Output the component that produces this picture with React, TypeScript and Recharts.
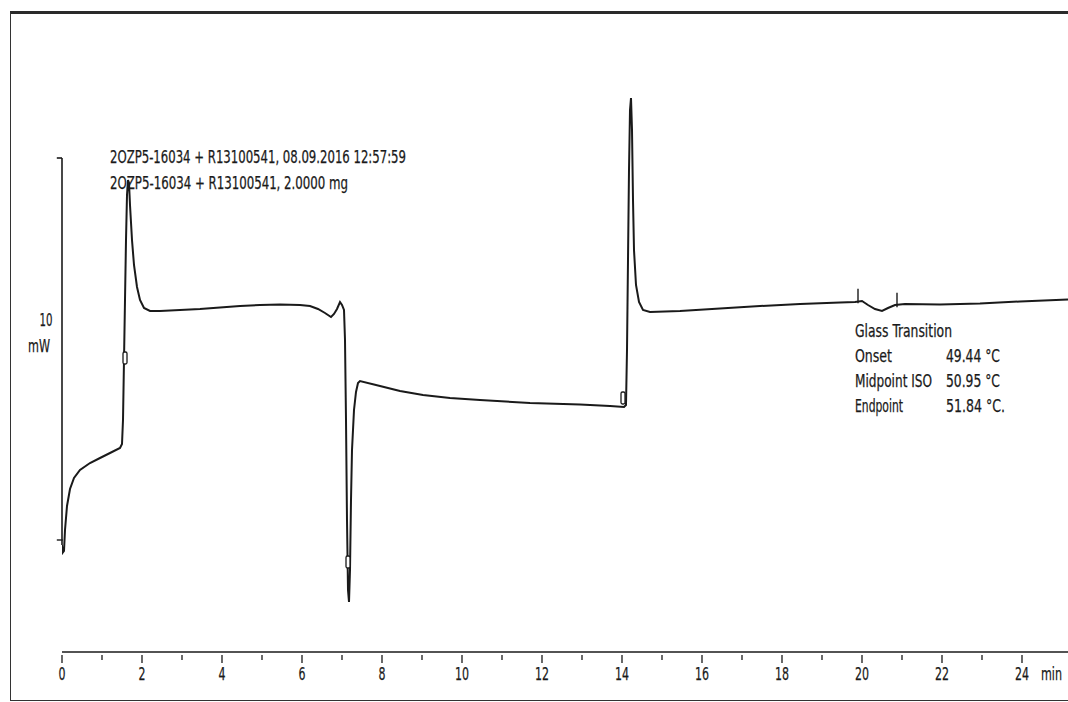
import React from 'react';
import { LineChart, Line, XAxis, YAxis, ReferenceLine, ReferenceDot } from 'recharts';

// time in minutes
const timeMin = [
  0, 0.0125, 0.05, 0.075, 0.125, 0.2, 0.3, 0.45, 0.7, 0.95, 1.2, 1.45, 1.5, 1.525, 1.55, 1.575, 1.6, 1.625, 1.65, 1.675,
  1.7, 1.75, 1.8, 1.875, 1.95, 2.05, 2.2, 2.45, 2.95, 3.45, 3.95, 4.45, 4.95, 5.45, 5.95, 6.2, 6.4, 6.575, 6.725, 6.8,
  6.875, 6.95, 7.0, 7.05, 7.075, 7.1, 7.125, 7.15, 7.175, 7.2, 7.225, 7.25, 7.3, 7.35, 7.4, 7.45, 7.95, 8.45, 9.025, 9.7,
  10.45, 11.7, 12.95, 13.7, 14.05, 14.1, 14.125, 14.15, 14.175, 14.2, 14.225, 14.25, 14.275, 14.3, 14.35, 14.425, 14.525, 14.7, 15.45, 16.45,
  17.45, 18.45, 19.45, 19.825, 20.0, 20.15, 20.325, 20.5, 20.65, 20.825, 21.075, 21.95, 22.95, 23.95, 25.15,
];
// heat flow in mW (arbitrary offset)
const heatFlowMw = [
  2.675, 2.475, 2.525, 3.05, 3.65, 4.075, 4.35, 4.55, 4.725, 4.85, 4.975, 5.1, 5.2, 5.8, 7.3, 8.8, 10.3, 11.425, 11.8, 11.725,
  11.175, 10.3, 9.675, 9.125, 8.8, 8.6, 8.525, 8.525, 8.55, 8.575, 8.6125, 8.65, 8.675, 8.6875, 8.675, 8.65, 8.575, 8.475, 8.375, 8.45,
  8.575, 8.75, 8.675, 8.55, 7.8, 5.8, 3.3, 1.55, 1.25, 2.05, 3.8, 5.05, 6.05, 6.5, 6.725, 6.775, 6.65, 6.525, 6.425, 6.35,
  6.3, 6.225, 6.1875, 6.15, 6.125, 6.175, 7.55, 9.8, 12.05, 13.55, 13.85, 13.05, 11.3, 10.05, 9.175, 8.75, 8.55, 8.5, 8.525, 8.5875,
  8.65, 8.7, 8.7375, 8.75, 8.775, 8.675, 8.575, 8.525, 8.6, 8.675, 8.7, 8.6875, 8.7125, 8.7625, 8.8125,
];

const xTicks = [0, 1, 2, 3, 4, 5, 6, 7, 8, 9, 10, 11, 12, 13, 14, 15, 16, 17, 18, 19, 20, 21, 22, 23, 24];
const xUnit = 'min';

const headerLines = [
  '2OZP5-16034 + R13100541, 08.09.2016 12:57:59',
  '2OZP5-16034 + R13100541, 2.0000 mg',
];
const scaleLabel = ['10', 'mW'];
const glassTitle = 'Glass Transition';
const glassNames = ['Onset', 'Midpoint ISO', 'Endpoint'];
const glassValues = ['49.44 °C', '50.95 °C', '51.84 °C.'];

// segment markers on the curve (time, mW)
const segMarkerT = [1.575, 7.15, 14.025];
const segMarkerV = [7.35, 2.25, 6.35];

const data = timeMin.map((t, i) => ({ t, hf: heatFlowMw[i] }));

const FONT = "'Liberation Sans Narrow', 'DejaVu Sans Condensed', 'Liberation Sans', sans-serif";
const INK = '#1a1a1a';

function makeText(text: string, anchor: 'start' | 'middle' | 'end', len?: number, size = 17) {
  return (props: any) => {
    const vb = props.viewBox || {};
    const x = (vb.x ?? 0) + (vb.width ?? 0) / 2;
    const y = (vb.y ?? 0) + (vb.height ?? 0) / 2;
    return (
      <text
        x={x}
        y={y}
        dy="0.36em"
        textAnchor={anchor}
        fontFamily={FONT}
        fontSize={size}
        fill={INK}
        stroke={INK}
        strokeWidth={0.25}
        textLength={len}
        lengthAdjust={len ? 'spacingAndGlyphs' : undefined}
      >
        {text}
      </text>
    );
  };
}

const XTick = (props: any) => {
  const { x, y, payload } = props;
  const v = payload.value as number;
  const major = v % 2 === 0;
  const label = String(v);
  return (
    <g>
      <line x1={x} x2={x} y1={y + 3} y2={y + (major ? 11 : 8)} stroke={INK} strokeWidth={1.3} />
      {major && (
        <text
          x={x}
          y={y + 22}
          dy="0.36em"
          textAnchor="middle"
          fontFamily={FONT}
          fontSize={18}
          fill={INK}
          stroke={INK}
          strokeWidth={0.25}
          textLength={label.length * 7}
          lengthAdjust="spacingAndGlyphs"
        >
          {label}
        </text>
      )}
      {v === 24 && (
        <text
          x={x + 19}
          y={y + 22}
          dy="0.36em"
          textAnchor="start"
          fontFamily={FONT}
          fontSize={18}
          fill={INK}
          stroke={INK}
          strokeWidth={0.25}
          textLength={21}
          lengthAdjust="spacingAndGlyphs"
        >
          {xUnit}
        </text>
      )}
    </g>
  );
};

const noDot = { r: 0.01, fill: 'none', stroke: 'none' } as any;

const SegMarker = (p: any) => (
  <rect x={p.cx - 2} y={p.cy - 6} width={4} height={12} rx={1.5} fill="#fff" stroke={INK} strokeWidth={1.3} />
);

export default function App() {
  return (
    <div style={{ position: 'fixed', left: 0, top: 0, width: 1068, height: 702, background: '#fff' }}>
      <div
        style={{
          position: 'absolute',
          left: 10,
          top: 11,
          width: 1058,
          height: 690,
          borderLeft: '1.5px solid #333',
          borderTop: '3px solid #2a2a2a',
          borderBottom: '1.5px solid #333',
          boxSizing: 'border-box',
        }}
      />
      <div style={{ position: 'absolute', left: 0, top: 0 }}>
        <LineChart width={1068} height={702} data={data} margin={{ top: 12, right: 0, bottom: 10, left: 62 }}>
          <XAxis
            dataKey="t"
            type="number"
            domain={[0, 25.15]}
            ticks={xTicks}
            interval={0}
            allowDataOverflow
            tick={<XTick />}
            tickLine={false}
            tickSize={0}
            tickMargin={0}
            height={40}
            axisLine={{ stroke: INK, strokeWidth: 1.6 }}
          />
          <YAxis type="number" domain={[0, 16]} hide width={0} allowDataOverflow />

          {/* 10 mW scale bar */}
          <ReferenceLine segment={[{ x: 0, y: 12.35 }, { x: 0, y: 2.675 }]} stroke={INK} strokeWidth={1.6} ifOverflow="visible" />
          <ReferenceLine segment={[{ x: -0.13, y: 12.35 }, { x: 0, y: 12.35 }]} stroke={INK} strokeWidth={1.6} ifOverflow="visible" />
          <ReferenceLine segment={[{ x: -0.13, y: 2.8 }, { x: 0.02, y: 2.8 }]} stroke={INK} strokeWidth={1.4} ifOverflow="visible" />

          <Line type="linear" dataKey="hf" stroke={INK} strokeWidth={2} dot={false} activeDot={false} isAnimationActive={false} />

          {/* glass transition evaluation marks */}
          <ReferenceLine segment={[{ x: 19.9, y: 8.72 }, { x: 19.9, y: 9.08 }]} stroke={INK} strokeWidth={1.4} ifOverflow="visible" />
          <ReferenceLine segment={[{ x: 20.875, y: 8.62 }, { x: 20.875, y: 8.98 }]} stroke={INK} strokeWidth={1.4} ifOverflow="visible" />

          {segMarkerT.map((t, i) => (
            <ReferenceDot key={'m' + i} x={t} y={segMarkerV[i]} r={3} shape={<SegMarker />} ifOverflow="visible" />
          ))}

          {/* header text */}
          <ReferenceDot x={1.2} y={12.375} {...noDot} ifOverflow="visible" label={{ content: makeText(headerLines[0], 'start', 296) }} />
          <ReferenceDot x={1.2} y={11.725} {...noDot} ifOverflow="visible" label={{ content: makeText(headerLines[1], 'start', 238) }} />

          {/* scale label */}
          <ReferenceDot x={-0.4} y={8.3} {...noDot} ifOverflow="visible" label={{ content: makeText(scaleLabel[0], 'middle', 13, 18) }} />
          <ReferenceDot x={-0.575} y={7.65} {...noDot} ifOverflow="visible" label={{ content: makeText(scaleLabel[1], 'middle', 22, 18) }} />

          {/* glass transition results */}
          <ReferenceDot x={19.825} y={8.025} {...noDot} ifOverflow="visible" label={{ content: makeText(glassTitle, 'start', 97) }} />
          {glassNames.map((n, i) => (
            <ReferenceDot key={'gn' + i} x={19.825} y={7.4 - i * 0.625} {...noDot} ifOverflow="visible" label={{ content: makeText(n, 'start', [37, 77, 48][i]) }} />
          ))}
          {glassValues.map((v, i) => (
            <ReferenceDot key={'gv' + i} x={22.1} y={7.4 - i * 0.625} {...noDot} ifOverflow="visible" label={{ content: makeText(v, 'start', [54, 54, 59][i]) }} />
          ))}
        </LineChart>
      </div>
    </div>
  );
}
